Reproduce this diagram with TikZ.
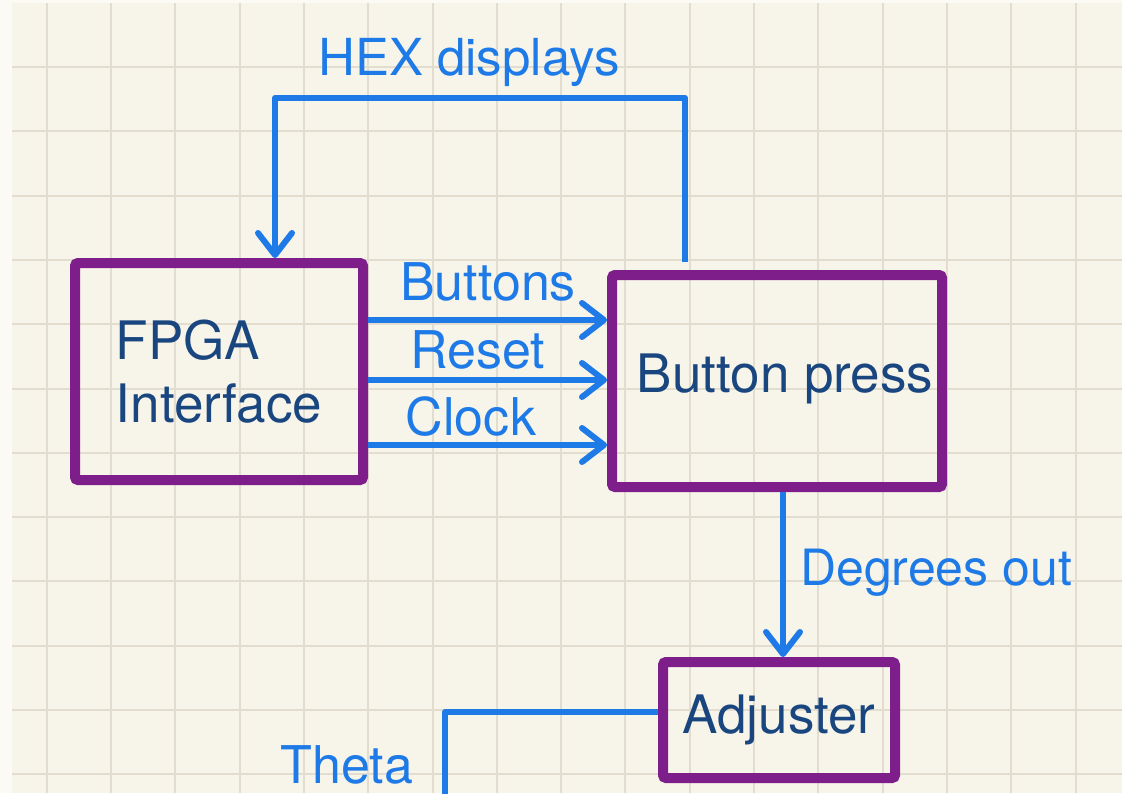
\documentclass[tikz,border=0pt]{standalone}
\usepackage{fontspec}
\setmainfont{TeX Gyre Heros}
\usepackage{tikz}
\usetikzlibrary{arrows.meta}

\definecolor{wireblue}{RGB}{30,122,230}
\definecolor{boxpurple}{RGB}{125,30,138}
\definecolor{inkblue}{RGB}{26,70,128}
\definecolor{paper}{RGB}{247,244,233}
\definecolor{paperedge}{RGB}{251,250,244}
\definecolor{gridc}{RGB}{226,221,207}

\begin{document}
\begin{tikzpicture}[x=1pt,y=-1pt,
                    every node/.style={font=\fontsize{52pt}{64pt}\selectfont},
                    block/.style={draw=boxpurple,line width=10pt,rounded corners=3pt,
                                  text=inkblue,inner sep=0pt,font=\fontsize{53pt}{63pt}\selectfont},
                    sig/.style={text=wireblue,inner sep=0pt},
                    wire/.style={draw=wireblue,line width=6pt,line join=round},
                    flow/.style={wire,-{Straight Barb[length=22pt,width=34pt,line cap=round,line join=round]}},
                    gridline/.style={draw=gridc,line width=2pt}]
  \useasboundingbox (0,0) rectangle (1122,793);
  \fill[paperedge] (0,0) rectangle (1122,793);
  \fill[paper] (12,3) rectangle (1122,793);

  % grid paper
  \foreach \k in {0,...,16}
    \draw[gridline] ({46.7+64.3*\k},3) -- ({46.7+64.3*\k},793);
  \foreach \k in {0,...,11}
    \draw[gridline] (12,{67+64.3*\k}) -- (1122,{67+64.3*\k});

  \node[block,minimum width=288pt,minimum height=217pt,align=left] (fpga) at (219,371.5)
    {FPGA\\Interface};
  \node[block,minimum width=330pt,minimum height=212pt,
        label={[text=inkblue,inner sep=0pt,font=\fontsize{53pt}{63pt}\selectfont,
                xshift=8pt,yshift=2pt]center:Button press}] (bp) at (777,381) {};
  \node[block,minimum width=232pt,minimum height=116pt] (adj) at (779,720) {Adjuster};

  \coordinate (hextop) at (0,98);
  \coordinate (thetaend) at (445,796);

  % inputs
  \draw[flow] (fpga.east |- 0,320) -- (bp.west |- 0,320);
  \draw[flow] (fpga.east |- 0,380) -- (bp.west |- 0,380);
  \draw[flow] (fpga.east |- 0,445) -- (bp.west |- 0,445);
  \node[sig,anchor=base] (lbuttons) at (488,300) {Buttons};
  \node[sig,anchor=base] (lreset) at (478,368) {Reset};
  \node[sig,anchor=base] (lclock) at (471,435) {Clock};

  % feedback to the displays
  \draw[flow,shorten <=8pt] ([xshift=-92pt]bp.north) -- ([xshift=-92pt]bp.north |- hextop)
    -| ([xshift=56pt]fpga.north);
  \node[sig,anchor=base,font=\fontsize{51pt}{60pt}\selectfont] (lhex) at (469,75) {HEX displays};

  \draw[flow] ([xshift=6pt]bp.south) -- ([xshift=6pt]bp.south |- adj.north);
  \node[sig,anchor=base west,font=\fontsize{50pt}{60pt}\selectfont] (ldeg) at (800,585) {Degrees out};

  \draw[wire] ([yshift=8pt]adj.west) -| (thetaend);
  \node[sig,anchor=base] (ltheta) at (347,783) {Theta};
\end{tikzpicture}
\end{document}
